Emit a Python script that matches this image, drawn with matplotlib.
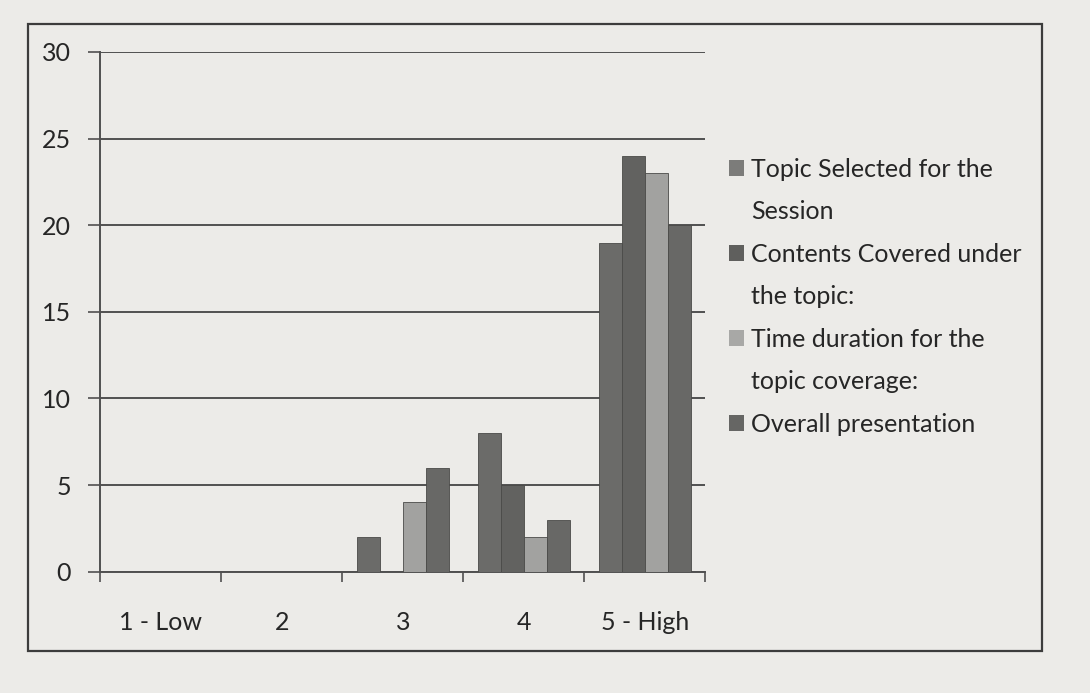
import numpy as np
import matplotlib.pyplot as plt
from matplotlib.patches import Rectangle

# Ratings on a 1-5 scale and number of responses per feedback item
categories = ["1 - Low", "2", "3", "4", "5 - High"]
topic_selected = [0, 0, 2, 8, 19]
contents_covered = [0, 0, 0, 5, 24]
time_duration = [0, 0, 4, 2, 23]
overall_presentation = [0, 0, 6, 3, 20]

# legend labels, wrapped over lines as in the printed chart
series_labels = [
    ["Topic Selected for the", "Session"],
    ["Contents Covered under", "the topic:"],
    ["Time duration for the", "topic coverage:"],
    ["Overall presentation"],
]
series_values = [topic_selected, contents_covered, time_duration, overall_presentation]
bar_colors = ["#6b6b69", "#626260", "#a2a2a0", "#686866"]
legend_colors = ["#7c7c7a", "#5f5f5d", "#a8a8a6", "#666664"]

paper = "#ecebe8"
ink = "#262626"
line_col = "#505050"

plt.rcParams["font.family"] = ["Lato", "DejaVu Sans"]

fig = plt.figure(figsize=(10.9, 6.93), dpi=100, facecolor=paper)
ax = fig.add_axes([0.092, 0.175, 0.555, 0.75], facecolor=paper)

x = np.arange(len(categories))
width = 0.19
offsets = (np.arange(4) - 1.5) * width
for vals, off, col in zip(series_values, offsets, bar_colors):
    ax.bar(x + off, vals, width=width, color=col, edgecolor="#4a4a48",
           linewidth=0.6, zorder=3)

ax.set_xlim(-0.5, len(categories) - 0.5)
ax.set_ylim(0, 30)
ax.set_yticks(np.arange(0, 31, 5))
ax.yaxis.grid(True, color=line_col, linewidth=1.4, zorder=1)
ax.set_axisbelow(True)

# category labels centred under each group, tick marks between groups
ax.set_xticks(x)
ax.set_xticklabels(categories, fontsize=18, color=ink)
ax.tick_params(axis="x", length=0, pad=28)
ax.set_xticks(np.arange(-0.5, len(categories)), minor=True)
ax.tick_params(axis="x", which="minor", length=7, width=1.2, color=line_col,
               direction="out")
ax.tick_params(axis="y", length=9, width=1.2, color=line_col, labelsize=18,
               labelcolor=ink, pad=12)

for side in ["top", "right"]:
    ax.spines[side].set_visible(False)
for side in ["left", "bottom"]:
    ax.spines[side].set_color(line_col)
    ax.spines[side].set_linewidth(1.4)

# one legend row per printed line; continuation lines get an empty handle
handles, labels = [], []
for col, lines in zip(legend_colors, series_labels):
    handles.append(Rectangle((0, 0), 1, 1, facecolor=col, edgecolor="none"))
    labels.append(lines[0])
    for extra in lines[1:]:
        handles.append(Rectangle((0, 0), 1, 1, facecolor="none", edgecolor="none"))
        labels.append(extra)

fig.legend(handles, labels, loc="upper left", bbox_to_anchor=(0.648, 0.805),
           frameon=False, fontsize=18, handlelength=0.6, handleheight=0.6,
           handletextpad=0.3, labelspacing=0.78, labelcolor=ink)

# outer chart frame
fig.patches.append(Rectangle((0.026, 0.06), 0.93, 0.905, transform=fig.transFigure,
                             fill=False, edgecolor="#3c3c3c", linewidth=1.6))

fig.savefig("out.png", dpi=100, facecolor=paper)
